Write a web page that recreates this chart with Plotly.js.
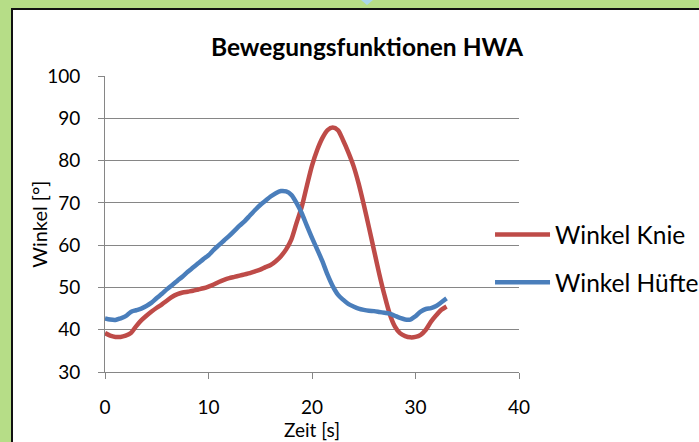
<!DOCTYPE html>
<html>
<head>
<meta charset="utf-8">
<script src="https://cdn.plot.ly/plotly-3.0.1.min.js"></script>
<style>
  html, body { margin: 0; padding: 0; }
  body { width: 699px; height: 442px; background: #b6dd87; position: relative; overflow: hidden; }
  #frame { position: absolute; left: 11px; top: 8px; width: 688px; height: 434px; overflow: hidden;
           border-left: 2px solid #111; border-top: 2px solid #111; background: #fff; box-sizing: border-box; }
  #chart { position: absolute; left: 0; top: 0; width: 720px; height: 450px; }
  #tri { position: absolute; left: 361px; top: 0; width: 0; height: 0;
         border-left: 6px solid transparent; border-right: 6px solid transparent; border-top: 5px solid #a9d6ea; }
</style>
</head>
<body>
<div id="tri"></div>
<div id="frame"><div id="chart"></div></div>
<script>
const zeit = [0, 0.5, 1, 1.5, 2, 2.5, 3, 3.5, 4, 4.5, 5, 5.5, 6, 6.5, 7, 7.5, 8, 8.5, 9, 9.5,
  10, 10.5, 11, 11.5, 12, 12.5, 13, 13.5, 14, 14.5, 15, 15.5, 16, 16.5, 17, 17.5, 18, 18.5, 19, 19.5,
  20, 20.5, 21, 21.5, 22, 22.5, 23, 23.5, 24, 24.5, 25, 25.5, 26, 26.5, 27, 27.5, 28, 28.5, 29, 29.5,
  30, 30.5, 31, 31.5, 32, 32.5, 33];

const winkelKnie = [39.2, 38.6, 38.3, 38.3, 38.6, 39.2, 40.8, 42.2, 43.3, 44.3, 45.2, 46.0, 46.9, 47.8, 48.4, 48.8, 49.0, 49.2, 49.5, 49.8,
  50.2, 50.7, 51.3, 51.8, 52.2, 52.5, 52.8, 53.1, 53.4, 53.8, 54.2, 54.8, 55.3, 56.2, 57.4, 59.0, 61.3, 65.2, 69.0, 74.0,
  78.8, 82.5, 85.3, 87.2, 87.8, 87.2, 84.8, 82.0, 78.8, 74.6, 69.6, 64.2, 58.7, 53.2, 48.2, 43.8, 40.8, 39.2, 38.5, 38.2,
  38.3, 38.8, 40.0, 41.9, 43.4, 44.7, 45.5];

const winkelHuefte = [42.7, 42.4, 42.3, 42.7, 43.2, 44.2, 44.6, 45.0, 45.6, 46.4, 47.5, 48.5, 49.6, 50.6, 51.6, 52.6, 53.7, 54.7, 55.7, 56.7,
  57.6, 58.9, 60.0, 61.1, 62.2, 63.4, 64.6, 65.7, 67.0, 68.3, 69.5, 70.5, 71.5, 72.3, 72.8, 72.7, 71.9, 70.0, 67.6, 64.6,
  61.7, 59.0, 56.2, 53.0, 50.3, 48.3, 47.1, 46.1, 45.5, 45.0, 44.7, 44.5, 44.4, 44.2, 44.0, 43.8, 43.3, 42.8, 42.4, 42.4,
  43.2, 44.3, 44.9, 45.1, 45.6, 46.5, 47.4];

const seriesNames = ["Winkel Knie", "Winkel Hüfte"];
const xTicks = [0, 10, 20, 30, 40];
const yTicks = [30, 40, 50, 60, 70, 80, 90, 100];
const xTitle = "Zeit [s]";
const yTitle = "Winkel [°]";

const FONT = "Lato, 'Open Sans', sans-serif";
const gridCol = "#868686";

const traces = [
  { x: zeit, y: winkelKnie, name: seriesNames[0], type: "scatter", mode: "lines",
    line: { color: "#be4b48", width: 4.5, shape: "spline", smoothing: 0.8 }, legend: "legend" },
  { x: zeit, y: winkelHuefte, name: seriesNames[1], type: "scatter", mode: "lines",
    line: { color: "#4a7ebb", width: 4.5, shape: "spline", smoothing: 0.8 }, legend: "legend2" }
];

const legendBase = { xref: "paper", yref: "paper", x: 0.93, xanchor: "left", yanchor: "middle",
  bgcolor: "rgba(0,0,0,0)", borderwidth: 0, itemwidth: 55,
  font: { family: FONT, size: 24.5, color: "#000" } };

const layout = {
  width: 720, height: 450,
  margin: { l: 91.5, r: 214, t: 66, b: 87.7, pad: 0 },
  paper_bgcolor: "#ffffff", plot_bgcolor: "#ffffff",
  font: { family: FONT, color: "#000" },
  title: { text: "<b>Bewegungsfunktionen HWA</b>", font: { family: FONT, size: 24.5, color: "#000" },
    xref: "container", yref: "container", x: 0.4917, xanchor: "center", y: 0.9178, yanchor: "middle" },
  xaxis: { range: [0, 40], tickvals: xTicks, ticktext: xTicks.map(String),
    showgrid: false, zeroline: false, showline: true, linecolor: gridCol, linewidth: 1,
    ticks: "outside", ticklen: 6, tickcolor: gridCol, tickwidth: 1,
    ticklabelstandoff: 12, tickfont: { family: FONT, size: 19, color: "#000" } },
  yaxis: { range: [30, 100], tickvals: yTicks, ticktext: yTicks.map(String),
    showgrid: true, gridcolor: gridCol, gridwidth: 1, zeroline: false,
    showline: true, linecolor: gridCol, linewidth: 1,
    ticks: "outside", ticklen: 6, tickcolor: gridCol, tickwidth: 1,
    ticklabelstandoff: 14, tickfont: { family: FONT, size: 19, color: "#000" } },
  annotations: [
    { text: xTitle, xref: "paper", yref: "paper", x: 0.5, y: -0.1945, xanchor: "center", yanchor: "middle",
      showarrow: false, font: { family: FONT, size: 19, color: "#000" } },
    { text: yTitle, xref: "paper", yref: "paper", x: -0.16, y: 0.5, xanchor: "center", yanchor: "middle",
      textangle: -90, showarrow: false, font: { family: FONT, size: 20, color: "#000" } }
  ],
  showlegend: true,
  legend: Object.assign({}, legendBase, { y: 0.4646 }),
  legend2: Object.assign({}, legendBase, { y: 0.3028 })
};

Plotly.newPlot("chart", traces, layout, { staticPlot: true, displayModeBar: false });
</script>
</body>
</html>
